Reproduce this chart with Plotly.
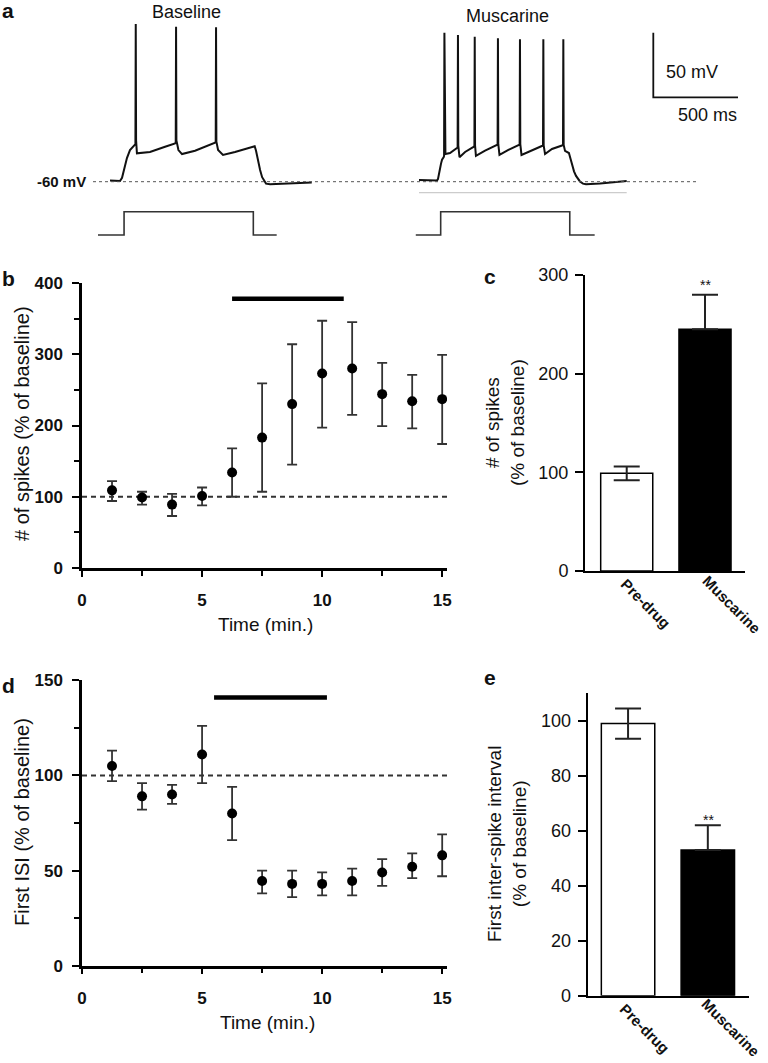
import plotly.graph_objects as go

W, H = 768, 1063
FONT = "Liberation Sans, Arial, Helvetica, sans-serif"

# ---------------- Panel a : membrane potential traces (local ms, mV) ----------------
BASE_T = [0, 59, 71, 83, 100, 118, 136, 149, 150, 152, 154, 159, 236, 325, 384, 388, 390, 392,
          404, 425, 502, 590, 620, 624, 626, 628, 638, 667, 738, 850, 854, 862, 874, 886, 898,
          909, 921, 945, 1063, 1191]
BASE_V = [-59, -59.5, -57, -51, -41.7, -35.5, -33, -31.6, -31, 62, -28, -38, -37, -33, -30.4, -29.5,
          60, -28, -35.5, -38.6, -36, -31.6, -29.8, -29, 59.5, -29, -35.5, -39.3, -37, -32.4, -32.5,
          -36, -44, -51, -56.5, -59.5, -61.5, -62, -61.5, -60.6]

MUSC_T = [0, 106, 112, 118, 124, 130, 136, 146, 148, 150, 156, 183, 224, 228, 230, 232, 239, 272,
          322, 327, 329, 331, 336, 390, 460, 464, 466, 468, 475, 525, 590, 594, 596, 598, 605, 655,
          726, 732, 734, 736, 744, 785, 844, 850, 852, 854, 862, 885, 894, 903, 915, 927, 939, 950,
          968, 986, 1069, 1226]
MUSC_V = [-58.7, -59, -58, -55, -50, -46, -43, -41, -40, 55.3, -38.6, -37.8, -34, -33.5, 53.5, -32,
          -41, -37, -33, -32.5, 52.2, -32, -40, -36, -31.6, -31, 51, -31, -39.3, -35.5, -31.6, -31,
          50.2, -31, -39.3, -36.2, -32.4, -32, 50.2, -32, -38.6, -34.7, -32, -31.5, 50.2, -31.5,
          -36.2, -37.8, -42, -47, -52, -55.5, -58, -59.8, -61.5, -62, -61.4, -59.5]

STIM_BASE_T = [-71, 83, 83, 846, 846, 984]
STIM_MUSC_T = [-19, 128, 128, 890, 890, 1037]
STIM_LEVEL = [0, 0, 1, 1, 0, 0]

RMP_MV = -60
SCALE_MV = 50
SCALE_MS = 500

# ---------------- Panel b / d : time course ----------------
TIME_MIN = [1.25, 2.5, 3.75, 5, 6.25, 7.5, 8.75, 10, 11.25, 12.5, 13.75, 15]
SPIKES_MEAN = [109, 99, 89, 101, 134, 183, 230, 273, 280, 244, 234, 237]
SPIKES_UPPER = [122, 107, 104, 113, 168, 259, 314, 347, 345, 288, 271, 299]
SPIKES_LOWER = [94, 89, 73, 88, 100, 107, 145, 197, 215, 199, 196, 174]
DRUG_B_X = [6.25, 10.9]
DRUG_B_Y = 378

ISI_MEAN = [105, 89, 90, 111, 80, 44.5, 43, 43, 44.5, 49, 52, 58]
ISI_UPPER = [113, 96, 95, 126, 94, 50, 50, 49, 51, 56, 59, 69]
ISI_LOWER = [97, 82, 85, 96, 66, 38, 36, 37, 37, 42, 46, 47]
DRUG_D_X = [5.5, 10.2]
DRUG_D_Y = 141

BASELINE_PCT = 100

# ---------------- Panel c / e : summary bars ----------------
GROUPS = ["Pre-drug", "Muscarine"]
SPIKE_BAR = [99, 245]
SPIKE_BAR_ERR_UP = [7, 35]
SPIKE_BAR_ERR_DN = [7, 0]
ISI_BAR = [99, 53]
ISI_BAR_ERR_UP = [5.5, 9]
ISI_BAR_ERR_DN = [5.5, 0]


def xd(a, b):
    return [a / W, b / W]


def yd(top, bottom):
    return [1 - bottom / H, 1 - top / H]


def px(x):
    return x / W


def py(y):
    return 1 - y / H


MS_PER_PX = 5.903
PX_PER_MV = 1.292
RMP_PX = 181.7
A_BOTTOM = 245
BASE_OFF = 110 * MS_PER_PX
MUSC_OFF = 419 * MS_PER_PX

fig = go.Figure()

trace_line = dict(color="#111111", width=2)
# voltage traces
fig.add_trace(go.Scatter(x=[t + BASE_OFF for t in BASE_T], y=BASE_V, mode="lines",
                         line=trace_line, xaxis="x", yaxis="y", hoverinfo="skip"))
fig.add_trace(go.Scatter(x=[t + MUSC_OFF for t in MUSC_T], y=MUSC_V, mode="lines",
                         line=trace_line, xaxis="x", yaxis="y", hoverinfo="skip"))
# stimulus steps
stim_line = dict(color="#333333", width=1.6)
fig.add_trace(go.Scatter(x=[t + BASE_OFF for t in STIM_BASE_T], y=STIM_LEVEL, mode="lines",
                         line=stim_line, xaxis="x", yaxis="y2", hoverinfo="skip"))
fig.add_trace(go.Scatter(x=[t + MUSC_OFF for t in STIM_MUSC_T], y=STIM_LEVEL, mode="lines",
                         line=stim_line, xaxis="x", yaxis="y2", hoverinfo="skip"))
# scale bar
sb_x0 = 653.3 * MS_PER_PX
sb_y0 = RMP_MV + (RMP_PX - 97.3) / PX_PER_MV
fig.add_trace(go.Scatter(x=[sb_x0, sb_x0, sb_x0 + SCALE_MS], y=[sb_y0 + SCALE_MV, sb_y0, sb_y0],
                         mode="lines", line=dict(color="#111111", width=1.8),
                         xaxis="x", yaxis="y", hoverinfo="skip"))

# ---- panel b ----
err_style = dict(type="data", symmetric=False, color="#333333", thickness=1.8, width=5)
fig.add_trace(go.Scatter(x=[0, 15.2], y=[BASELINE_PCT, BASELINE_PCT], mode="lines",
                         line=dict(color="#333333", width=2, dash="5px,4px"),
                         xaxis="x2", yaxis="y3", hoverinfo="skip"))
fig.add_trace(go.Scatter(x=DRUG_B_X, y=[DRUG_B_Y, DRUG_B_Y], mode="lines",
                         line=dict(color="#000000", width=4.5), xaxis="x2", yaxis="y3"))
fig.add_trace(go.Scatter(
    x=TIME_MIN, y=SPIKES_MEAN, mode="markers",
    marker=dict(color="#000000", size=10),
    error_y=dict(err_style, array=[u - m for u, m in zip(SPIKES_UPPER, SPIKES_MEAN)],
                 arrayminus=[m - l for m, l in zip(SPIKES_MEAN, SPIKES_LOWER)]),
    xaxis="x2", yaxis="y3"))

# ---- panel d ----
fig.add_trace(go.Scatter(x=[0, 15.2], y=[BASELINE_PCT, BASELINE_PCT], mode="lines",
                         line=dict(color="#333333", width=2, dash="5px,4px"),
                         xaxis="x4", yaxis="y5", hoverinfo="skip"))
fig.add_trace(go.Scatter(x=DRUG_D_X, y=[DRUG_D_Y, DRUG_D_Y], mode="lines",
                         line=dict(color="#000000", width=4.5), xaxis="x4", yaxis="y5"))
fig.add_trace(go.Scatter(
    x=TIME_MIN, y=ISI_MEAN, mode="markers",
    marker=dict(color="#000000", size=10),
    error_y=dict(err_style, array=[u - m for u, m in zip(ISI_UPPER, ISI_MEAN)],
                 arrayminus=[m - l for m, l in zip(ISI_MEAN, ISI_LOWER)]),
    xaxis="x4", yaxis="y5"))

# ---- panel c / e bars ----
bar_err = dict(type="data", symmetric=False, color="#222222", thickness=2, width=13)
fig.add_trace(go.Bar(x=GROUPS, y=SPIKE_BAR, width=0.665,
                     marker=dict(color=["#ffffff", "#000000"], line=dict(color="#000000", width=1.5)),
                     error_y=dict(bar_err, array=SPIKE_BAR_ERR_UP, arrayminus=SPIKE_BAR_ERR_DN),
                     xaxis="x3", yaxis="y4"))
fig.add_trace(go.Bar(x=GROUPS, y=ISI_BAR, width=0.67,
                     marker=dict(color=["#ffffff", "#000000"], line=dict(color="#000000", width=1.5)),
                     error_y=dict(bar_err, array=ISI_BAR_ERR_UP, arrayminus=ISI_BAR_ERR_DN),
                     xaxis="x5", yaxis="y6"))

bold_tick = dict(family=FONT, size=17, color="#111111", weight="bold")
reg_tick = dict(family=FONT, size=18, color="#111111")

common = dict(automargin=False, showgrid=False, zeroline=False, fixedrange=True)

time_axis = dict(common, range=[0, 15.2], showline=True, linewidth=2.5, linecolor="#000000",
                 ticks="outside", ticklen=6, tickwidth=2, tickcolor="#000000",
                 tickvals=[0, 5, 10, 15], ticktext=["0", "5", "10", "15"],
                 minor=dict(tickvals=[2.5, 7.5, 12.5], ticklen=5, tickwidth=2,
                            tickcolor="#000000", ticks="outside", showgrid=False),
                 tickfont=bold_tick, ticklabelstandoff=9)

fig.update_layout(
    template="none",
    width=W, height=H, autosize=False,
    margin=dict(l=0, r=0, t=0, b=0, pad=0, autoexpand=False),
    paper_bgcolor="#ffffff", plot_bgcolor="rgba(0,0,0,0)",
    showlegend=False,
    font=dict(family=FONT, color="#111111"),
    # panel a
    xaxis=dict(common, domain=[0, 1], range=[0, W * MS_PER_PX], visible=False, anchor="y"),
    yaxis=dict(common, domain=yd(0, A_BOTTOM),
               range=[RMP_MV - (A_BOTTOM - RMP_PX) / PX_PER_MV, RMP_MV + RMP_PX / PX_PER_MV],
               visible=False, anchor="x"),
    yaxis2=dict(common, domain=yd(0, A_BOTTOM), overlaying="y",
                range=[-(A_BOTTOM - 235) / 23.3, 235 / 23.3], visible=False, anchor="x"),
    # panel b
    xaxis2=dict(time_axis, domain=xd(82, 447), anchor="y3"),
    yaxis3=dict(common, domain=yd(283, 568), range=[0, 400], anchor="x2",
                showline=True, linewidth=2.5, linecolor="#000000",
                ticks="outside", ticklen=7, tickwidth=2, tickcolor="#000000",
                tickvals=[0, 100, 200, 300, 400],
                minor=dict(tickvals=[50, 150, 250, 350], ticklen=5, tickwidth=2,
                           tickcolor="#000000", ticks="outside", showgrid=False),
                tickfont=bold_tick, ticklabelstandoff=6),
    # panel c
    xaxis3=dict(common, domain=xd(585, 745), range=[-0.533, 1.511], anchor="y4",
                showline=True, linewidth=2, linecolor="#000000", ticks="",
                showticklabels=False),
    yaxis4=dict(common, domain=yd(275, 571), range=[0, 300], anchor="x3",
                showline=True, linewidth=2, linecolor="#000000",
                ticks="outside", ticklen=8, tickwidth=2, tickcolor="#000000",
                tickvals=[0, 100, 200, 300], tickfont=reg_tick, ticklabelstandoff=3),
    # panel d
    xaxis4=dict(time_axis, domain=xd(82, 447), anchor="y5"),
    yaxis5=dict(common, domain=yd(680.3, 965.7), range=[0, 150], anchor="x4",
                showline=True, linewidth=2.5, linecolor="#000000",
                ticks="outside", ticklen=7, tickwidth=2, tickcolor="#000000",
                tickvals=[0, 50, 100, 150],
                minor=dict(tickvals=[25, 75, 125], ticklen=5, tickwidth=2,
                           tickcolor="#000000", ticks="outside", showgrid=False),
                tickfont=bold_tick, ticklabelstandoff=6),
    # panel e
    xaxis5=dict(common, domain=xd(587.7, 749.3), range=[-0.506, 1.52], anchor="y6",
                showline=True, linewidth=2, linecolor="#000000", ticks="",
                showticklabels=False),
    yaxis6=dict(common, domain=yd(693.3, 995.7), range=[0, 110], anchor="x5",
                showline=True, linewidth=2, linecolor="#000000",
                ticks="outside", ticklen=8, tickwidth=2, tickcolor="#000000",
                tickvals=[0, 20, 40, 60, 80, 100], tickfont=reg_tick, ticklabelstandoff=3),
)

# reference lines in panel a
fig.add_shape(type="line", xref="x", yref="y", x0=93 * MS_PER_PX, x1=699 * MS_PER_PX,
              y0=RMP_MV, y1=RMP_MV, line=dict(color="#555555", width=1, dash="dot"))
fig.add_shape(type="line", xref="x", yref="y", x0=MUSC_OFF, x1=MUSC_OFF + 1226,
              y0=RMP_MV - 8.5, y1=RMP_MV - 8.5, line=dict(color="#cccccc", width=1.2))


def ann(text, x, y, size=17, bold=False, angle=0, xanchor="center", yanchor="middle", color="#111111"):
    fig.add_annotation(text=text, x=px(x), y=py(y), xref="paper", yref="paper",
                       showarrow=False, textangle=angle, xanchor=xanchor, yanchor=yanchor,
                       font=dict(family=FONT, size=size, color=color,
                                 weight="bold" if bold else "normal"))


# panel labels
ann("a", 8, 10, size=21, bold=True)
ann("b", 8, 278, size=21, bold=True)
ann("c", 490, 276, size=21, bold=True)
ann("d", 8, 685, size=21, bold=True)
ann("e", 490, 677, size=21, bold=True)

# panel a texts
ann("Baseline", 186, 12, size=18)
ann("Muscarine", 507, 16, size=18)
ann("-60 mV", 88, 182, size=15, bold=True, xanchor="right")
ann(f"{SCALE_MV} mV", 692, 72, size=18)
ann(f"{SCALE_MS} ms", 707, 115, size=18)

# axis titles
ann("# of spikes (% of baseline)", 22, 424, size=20, angle=-90)
ann("Time (min.)", 265, 624, size=19)
ann("First ISI (% of baseline)", 22, 822, size=20, angle=-90)
ann("Time (min.)", 267, 1022, size=19)
ann("# of spikes<br>(% of baseline)", 505, 423, size=19, angle=-90)
ann("First inter-spike interval<br>(% of baseline)", 507, 844, size=19, angle=-90)

# rotated category labels for the bar panels
for name, cx, cy in zip(GROUPS, [646, 732], [603, 604]):
    ann(name, cx, cy, size=15, bold=True, angle=45)
for name, cx, cy in zip(GROUPS, [645, 731], [1028, 1027]):
    ann(name, cx, cy, size=15, bold=True, angle=45)

# significance marks
ann("**", 705, 285, size=14)
ann("**", 708, 820, size=14)

fig.write_html("out.html", config={"displayModeBar": False},
               post_script="document.body.style.margin='0px';")
